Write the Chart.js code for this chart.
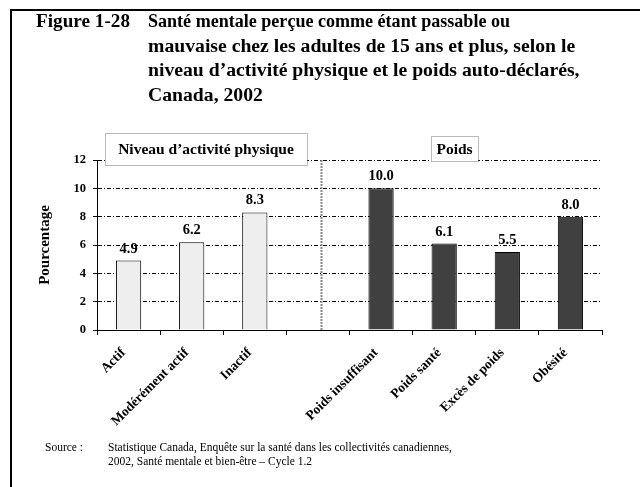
<!DOCTYPE html>
<html>
<head>
<meta charset="utf-8">
<script src="https://cdn.jsdelivr.net/npm/chart.js@4/dist/chart.umd.min.js"></script>
<style>
  html, body { margin: 0; padding: 0; background: #fff; }
  #wrap { width: 640px; height: 487px; position: relative; }
</style>
</head>
<body>
<div id="wrap"><canvas id="chart" width="640" height="487"></canvas></div>
<script>
// data
const activiteLabels = ['Actif', 'Modérément actif', 'Inactif'];
const activiteValues = [4.9, 6.2, 8.3];
const poidsLabels = ['Poids insuffisant', 'Poids santé', 'Excès de poids', 'Obésité'];
const poidsValues = [10.0, 6.1, 5.5, 8.0];
const yTicks = [0, 2, 4, 6, 8, 10, 12];

const titleLines = [
    'Santé mentale perçue comme étant passable ou',
    'mauvaise chez les adultes de 15 ans et plus, selon le',
    'niveau d\u2019activité physique et le poids auto-déclarés,',
    'Canada, 2002'
];
const sourceLines = [
    'Statistique Canada, Enquête sur la santé dans les collectivités canadiennes,',
    '2002, Santé mentale et bien-être \u2013 Cycle 1.2'
];

const SERIF = '"Liberation Serif", "Times New Roman", serif';

// one empty slot sits between the two groups
const labels = [...activiteLabels, '', ...poidsLabels];
const values = [...activiteValues, null, ...poidsValues];
const colors = [
    ...activiteValues.map(() => '#eeeeee'),
    'transparent',
    ...poidsValues.map(() => '#404040')
];

const decorPlugin = {
    id: 'decor',
    beforeDraw(chart) {
        const ctx = chart.ctx;
        ctx.save();
        // frame (left + top)
        ctx.strokeStyle = '#000';
        ctx.lineWidth = 2;
        ctx.beginPath();
        ctx.moveTo(11, 487);
        ctx.lineTo(11, 10);
        ctx.lineTo(640, 10);
        ctx.stroke();

        // title - first line is set tighter in the original
        ctx.fillStyle = '#000';
        ctx.font = 'bold 19.7px ' + SERIF;
        ctx.textBaseline = 'alphabetic';
        ctx.textAlign = 'left';
        ctx.fillText('Figure 1-28', 36, 27, 94);
        titleLines.forEach((t, i) => {
            if (i === 0) ctx.fillText(t, 148, 27, 362);
            else ctx.fillText(t, 148, 27 + i * 24.5);
        });

        // source
        ctx.font = '11.5px ' + SERIF;
        ctx.fillText('Source :', 45, 451);
        sourceLines.forEach((t, i) => ctx.fillText(t, 108, 451 + i * 14));
        ctx.restore();
    },
    afterDatasetsDraw(chart) {
        const ctx = chart.ctx;
        const x = chart.scales.x;
        const area = chart.chartArea;
        ctx.save();

        // group divider
        const divX = (x.getPixelForValue(3) + x.getPixelForValue(4)) / 2 - 28;
        ctx.strokeStyle = '#888';
        ctx.lineWidth = 2;
        ctx.setLineDash([2, 1]);
        ctx.beginPath();
        ctx.moveTo(divX, area.top);
        ctx.lineTo(divX, area.bottom);
        ctx.stroke();

        // group boxes
        ctx.lineWidth = 1;
        ctx.strokeStyle = '#777';
        ctx.setLineDash([1, 1]);
        const boxes = [
            { text: 'Niveau d\u2019activité physique', x0: 105, x1: 307, y0: 133, y1: 165 },
            { text: 'Poids', x0: 431, x1: 478, y0: 136, y1: 161 }
        ];
        boxes.forEach(b => {
            ctx.fillStyle = '#fff';
            ctx.fillRect(b.x0, b.y0, b.x1 - b.x0, b.y1 - b.y0);
            ctx.strokeRect(b.x0 + 0.5, b.y0 + 0.5, b.x1 - b.x0, b.y1 - b.y0);
        });
        ctx.setLineDash([]);
        ctx.fillStyle = '#000';
        ctx.font = 'bold 15.5px ' + SERIF;
        ctx.textAlign = 'center';
        ctx.textBaseline = 'middle';
        boxes.forEach(b => ctx.fillText(b.text, (b.x0 + b.x1) / 2, (b.y0 + b.y1) / 2 + 1));

        // value labels
        ctx.font = 'bold 14.5px ' + SERIF;
        ctx.textBaseline = 'alphabetic';
        const meta = chart.getDatasetMeta(0);
        meta.data.forEach((bar, i) => {
            if (values[i] == null) return;
            ctx.fillText(values[i].toFixed(1), bar.x, bar.y - 8);
        });
        ctx.restore();
    }
};

new Chart(document.getElementById('chart'), {
    type: 'bar',
    data: {
        labels: labels,
        datasets: [{
            data: values,
            backgroundColor: colors,
            borderColor: '#000',
            borderWidth: 1,
            barPercentage: 0.4,
            categoryPercentage: 1
        }]
    },
    options: {
        responsive: false,
        animation: false,
        events: [],
        layout: { padding: { left: 0, right: 38, top: 160, bottom: 57 } },
        plugins: {
            legend: { display: false },
            tooltip: { enabled: false }
        },
        scales: {
            x: {
                grid: {
                    offset: true,
                    drawOnChartArea: false,
                    drawTicks: true,
                    tickLength: 5,
                    tickColor: '#000'
                },
                border: { color: '#000', width: 1 },
                ticks: {
                    color: '#000',
                    maxRotation: 45,
                    minRotation: 45,
                    padding: 10,
                    labelOffset: -5,
                    font: { family: SERIF, size: 13.5, weight: 'bold' }
                },
                afterFit(scale) { scale.height = 100; }
            },
            y: {
                min: 0,
                max: 12,
                afterBuildTicks(scale) { scale.ticks = yTicks.map(v => ({ value: v })); },
                grid: {
                    color: '#000',
                    lineWidth: 1,
                    drawTicks: true,
                    tickLength: 4,
                    tickColor: '#000',
                    tickBorderDash: []
                },
                border: { color: '#000', width: 1, dash: [4, 2, 1, 2] },
                ticks: {
                    color: '#000',
                    padding: 7,
                    font: { family: SERIF, size: 12.5, weight: 'bold' }
                },
                title: {
                    display: true,
                    text: 'Pourcentage',
                    color: '#000',
                    padding: { top: 36, bottom: 0 },
                    font: { family: SERIF, size: 15, weight: 'bold' }
                },
                afterFit(scale) { scale.width = 97; }
            }
        }
    },
    plugins: [decorPlugin]
});
</script>
</body>
</html>
